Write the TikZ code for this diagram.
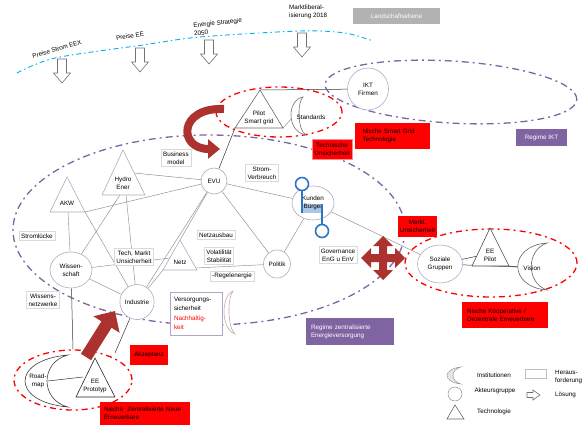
\documentclass[tikz,border=0pt]{standalone}
\usepackage{fontspec}
\setmainfont{Liberation Sans}
\usetikzlibrary{shapes.geometric,arrows.meta,backgrounds}
\definecolor{purp}{HTML}{8064A2}
\definecolor{skyb}{HTML}{00B0F0}
\definecolor{nodeline}{HTML}{B0A8C4}
\definecolor{boxline}{HTML}{DADADA}
\definecolor{darkred}{HTML}{AC3230}
\definecolor{selblue}{HTML}{2E75C6}
\definecolor{selfill}{HTML}{A9C8E8}
\definecolor{cresred}{HTML}{C9A9A6}
\begin{document}
\begin{tikzpicture}[x=1pt,y=-1pt, font=\fontsize{6.3}{8.2}\selectfont,
 conn/.style={draw=black!45, line width=0.45pt},
 dconn/.style={draw=black!80, line width=0.5pt},
 actor/.style={ellipse, draw=nodeline, line width=0.6pt, fill=white, align=center, inner sep=0pt},
 tri/.style={draw=nodeline, line width=0.6pt, fill=white},
 txt/.style={align=center, inner sep=0pt},
 hbox/.style={draw=boxline, line width=0.5pt, fill=white, align=center, inner sep=2pt},
 redbox/.style={fill=red, inner sep=0pt, align=center},
 purpbox/.style={fill=purp, text=white, inner sep=0pt, align=center},
 purpdd/.style={draw=purp, line width=1.3pt, dash pattern=on 7pt off 4pt on 2pt off 4pt},
 reddd/.style={draw=red, line width=1.3pt, dash pattern=on 6pt off 4pt on 2pt off 4pt},
 bluedd/.style={draw=skyb, line width=0.9pt, dash pattern=on 5pt off 3pt on 1.5pt off 3pt},
 harrow/.style={draw=black!55, line width=0.6pt, fill=white},
 cresc/.style={draw=black!45, line width=0.6pt, fill=white},
]
\useasboundingbox (0,0) rectangle (583,425);

% landscape level
\draw[bluedd] plot[smooth] coordinates {(17,73) (55,58) (143,45) (200,37) (300,31) (345,33) (373,41)};
\node[txt, rotate=16] (pse) at (57,49) {Preise Strom EEX};
\node[txt, rotate=9] (pee) at (130,36) {Preise EE};
\node[txt, rotate=6, align=left] (es) at (218,27) {Energie Strategie\\2050};
\node[txt, align=left, anchor=west] (ml) at (289,12) {Marktliberal-\\isierung 2018};
\node[fill=black!30, text=white, minimum width=87pt, minimum height=16pt, inner sep=0pt] (land) at (396.5,16) {Landschaftsebene};
\foreach \x/\y in {62/59, 140/48, 209/40, 302/33}
  \draw[harrow] (\x-4.5,\y) -- (\x+4.5,\y) -- (\x+4.5,\y+14) -- (\x+8.5,\y+14) -- (\x,\y+24) -- (\x-8.5,\y+14) -- (\x-4.5,\y+14) -- cycle;

% regimes and niches
\node[ellipse, purpdd, minimum width=392pt, minimum height=190pt] (rz) at (209,230) {};
\node[ellipse, purpdd, minimum width=252pt, minimum height=62pt, rotate=-3.5] (rikt) at (451,92) {};
\node[ellipse, reddd, minimum width=126pt, minimum height=50pt] (nsg) at (279,112) {};
\node[ellipse, reddd, minimum width=172pt, minimum height=68pt] (nko) at (491,263) {};
\node[ellipse, reddd, minimum width=118pt, minimum height=60pt] (nze) at (73,380) {};

% actor groups
\node[actor, minimum width=26pt, minimum height=26pt] (evu) at (214,181) {EVU};
\node[actor, minimum width=42pt, minimum height=34pt] (kun) at (313,203) {};
\fill[selfill] (302,204) rectangle (322,213);
\node[txt] (kunt) at (313,203) {Kunden\\Bürger};
\node[actor, minimum width=27pt, minimum height=28pt] (pol) at (277,264) {Politik};
\node[actor, minimum width=42pt, minimum height=36pt] (wis) at (71,270) {Wissen-\\schaft};
\node[actor, minimum width=34pt, minimum height=35pt] (ind) at (137,302) {Industrie};
\node[actor, minimum width=45pt, minimum height=38pt] (soz) at (440,264) {Soziale\\Gruppen};
\node[actor, minimum width=41pt, minimum height=42pt] (ikt) at (368,89) {IKT\\Firmen};

% selection handles on Kunden/Buerger
\draw[selblue, line width=1.6pt] (302,190) -- (302,213);
\draw[selblue, line width=1.6pt] (322,204) -- (322,225);
\draw[selblue, line width=1.6pt, fill=white] (302,184) circle (6.5);
\draw[selblue, line width=1.6pt, fill=white] (322,231) circle (6.5);

% technologies
\draw[tri, draw=black!60] (260,90) coordinate (pilA) -- (235,128) coordinate (pilL) -- (283,128) coordinate (pilR) -- cycle;
\node[txt] (pil) at (259,118) {Pilot\\Smart grid};
\draw[tri] (67,177) coordinate (akwA) -- (50,212) coordinate (akwL) -- (85,212) coordinate (akwR) -- cycle;
\node[txt] (akw) at (67,203) {AKW};
\draw[tri] (123,150) coordinate (hydA) -- (102,195) coordinate (hydL) -- (145,195) coordinate (hydRb) -- cycle;
\node[txt] (hyd) at (123,183) {Hydro\\Ener};
\draw[tri] (180,240) coordinate (netA) -- (163,270) coordinate (netL) -- (197,270) coordinate (netR) -- cycle;
\node[txt] (net) at (180,262) {Netz};
\draw[tri, draw=black!70] (490,228) coordinate (eepA) -- (472,266) coordinate (eepL) -- (509,266) coordinate (eepR) -- cycle;
\node[txt] (eep) at (490,255) {EE\\Pilot};
\draw[tri, draw=black!85] (95,358) coordinate (eeoA) -- (76,397) coordinate (eeoL) -- (115,397) coordinate (eeoR) -- cycle;
\node[txt] (eeo) at (95,386) {EE\\Prototyp};

% institutions
\draw[cresc, draw=black!55] (303,97) .. controls (286.5,100) and (286.5,132) .. (306,135) .. controls (297.2,130) and (297.2,102) .. (303,97) -- cycle;
\node[txt] (std) at (311,117) {Standards};
\draw[cresc, draw=cresred] (233,291) .. controls (220.7,296) and (220.7,329) .. (235,334) .. controls (227.3,327) and (227.3,298) .. (233,291) -- cycle;
\draw[cresc, draw=black!60] (547,243) .. controls (508,246) and (508,287) .. (547,290) .. controls (526,283) and (526,250) .. (547,243) -- cycle;
\node[txt] (vis) at (532,268) {Vision};
\draw[cresc, draw=black!75] (68,355) .. controls (10.7,360) and (10.7,402) .. (68,407) .. controls (40,400) and (40,362) .. (68,355) -- cycle;
\node[txt] (road) at (38,381) {Road-\\map};

% connector anchor points
\coordinate (stdL) at (292,118);
\coordinate (hydR) at (134,173);
\coordinate (hydB) at (120,195);
\coordinate (hydB2) at (126,195);
\coordinate (akwB) at (68,212);
\coordinate (netC) at (178,257);
\coordinate (netRb) at (196,268);
\coordinate (nzeR) at (115,353);
\coordinate (roadR) at (48,381);
\coordinate (eeoW) at (83,377);
\coordinate (eepW) at (478,256);
\coordinate (visW) at (519,267);

% connectors
\begin{pgfonlayer}{background}
\draw[dconn] (pilA) -- (ikt);
\draw[dconn] (pilL) -- (evu);
\draw[conn] (pilR) -- (stdL);
\draw[conn] (hydR) -- (evu);
\draw[conn] (akwR) -- (evu);
\draw[conn] (evu) -- (kun);
\draw[conn] (evu) -- (pol);
\draw[conn] (evu) -- (netA);
\draw[conn] (evu) -- (ind);
\draw[conn] (akwB) -- (wis);
\draw[conn] (hydB) -- (wis);
\draw[conn] (akwR) -- (ind);
\draw[conn] (hydB2) -- (ind);
\draw[conn] (wis) -- (netC);
\draw[conn] (netRb) -- (pol);
\draw[conn] (netL) -- (ind);
\draw[conn] (wis) -- (ind);
\draw[dconn] (wis) -- (nze.north);
\draw[dconn] (ind) -- (nzeR);
\draw[dconn] (roadR) -- (eeoW);
\draw[conn] (kun) -- (pol);
\draw[conn] (kun) -- (soz);
\draw[dconn] (soz) -- (eepW);
\draw[dconn] (eepR) -- (visW);
\draw[dconn] (soz) -- (visW);
\end{pgfonlayer}

% challenges
\node[hbox] (bm) at (176,158) {Business\\model};
\node[hbox] (sv) at (262,173) {Strom-\\Verbreuch};
\node[hbox] (sl) at (37,236) {Stromlücke};
\node[hbox] (tmu) at (134,257) {Tech, Markt\\Unsicherheit};
\node[hbox] (wn) at (43,300) {Wissens-\\netzwerke};
\node[hbox] (na) at (216,235) {Netzausbau};
\node[hbox] (vs) at (219,256) {Volatilität\\Stabilität};
\node[hbox] (re) at (232,276) {-Regelenergie};
\node[hbox] (gov) at (338,255) {Governance\\EnG u EnV};
\node[hbox, draw=nodeline, align=left, inner xsep=4pt, text width=44pt, minimum height=43pt, font=\fontsize{6.3}{9.3}\selectfont] (vsn) at (196,313.5) {Versorgungs-\\sicherheit\\\textcolor{red}{Nachhaltig-}\\\textcolor{red}{keit}};

% red labels
\node[redbox, minimum width=75pt, minimum height=26pt, text width=60pt, align=left] (rsg) at (392.5,136) {Nische Smart Grid\\Technologie};
\node[redbox, draw=red!45, line width=1pt, minimum width=40pt, minimum height=20pt] (rtu) at (332,149) {Technische\\Unsicherheit};
\node[redbox, minimum width=39pt, minimum height=21pt] (rmu) at (417.5,226.5) {Markt.\\Unsicherheit};
\node[redbox, minimum width=86pt, minimum height=26pt, text width=76pt, align=left] (rko) at (505,315) {Nische Kooperative /\\Dezentrale Erneuerbare};
\node[redbox, minimum width=38pt, minimum height=20pt] (rak) at (149,355) {Akzeptanz};
\node[redbox, minimum width=90pt, minimum height=23pt, text width=82pt, align=left] (rze) at (145,413.5) {Nische\ \ Zentralisierte Neue\\Erneuerbare};

% regime labels
\node[purpbox, minimum width=51pt, minimum height=17pt] (pikt) at (541.5,137.5) {Regime IKT};
\node[purpbox, minimum width=88pt, minimum height=27pt, text width=78pt, align=left] (pzen) at (350,331.5) {Regime zentralisierte\\Energieversorgung};

% big red arrows
\draw[darkred, line width=8pt, -{Triangle[length=12pt,width=19pt]}] (224,109) .. controls (178,107) and (178,149) .. (220,149);
\draw[darkred, line width=12pt, -{Triangle[length=16pt,width=30pt]}] (86,357) -- (115,311);
\fill[darkred, shift={(383,258)}] (4,-4) -- (12,-4) -- (12,-10) -- (22,0) -- (12,10) -- (12,4) -- (4,4) -- (4,12) -- (10,12) -- (0,22) -- (-10,12) -- (-4,12) -- (-4,4) -- (-12,4) -- (-12,10) -- (-22,0) -- (-12,-10) -- (-12,-4) -- (-4,-4) -- (-4,-12) -- (-10,-12) -- (0,-22) -- (10,-12) -- (4,-12) -- cycle;

% legend
\draw[draw=black!40, fill=black!10, line width=0.5pt] (461,367) .. controls (442.3,369) and (442.3,382) .. (461,384) .. controls (450.3,381) and (450.3,370) .. (461,367) -- cycle;
\node[circle, draw=black!45, line width=0.5pt, minimum size=14pt, inner sep=0pt] (lgc) at (455,394) {};
\draw[draw=black!60, line width=0.6pt] (455,405) -- (447,419) -- (464,419) -- cycle;
\node[txt] (lgi) at (494,375) {Institutionen};
\node[txt] (lga) at (495,391) {Akteursgruppe};
\node[txt] (lgt) at (494,412) {Technologie};
\node[draw=black!25, line width=0.6pt, minimum width=21pt, minimum height=9pt, inner sep=0pt] (lgr) at (535.5,373.5) {};
\node[txt, anchor=west, align=left] (lgh) at (555,377) {Heraus-\\forderung};
\draw[harrow] (527,392.5) -- (533,392.5) -- (533,390) -- (540,395) -- (533,400) -- (533,397.5) -- (527,397.5) -- cycle;
\node[txt, anchor=west] (lgl) at (555,395) {Lösung};
\end{tikzpicture}
\end{document}
